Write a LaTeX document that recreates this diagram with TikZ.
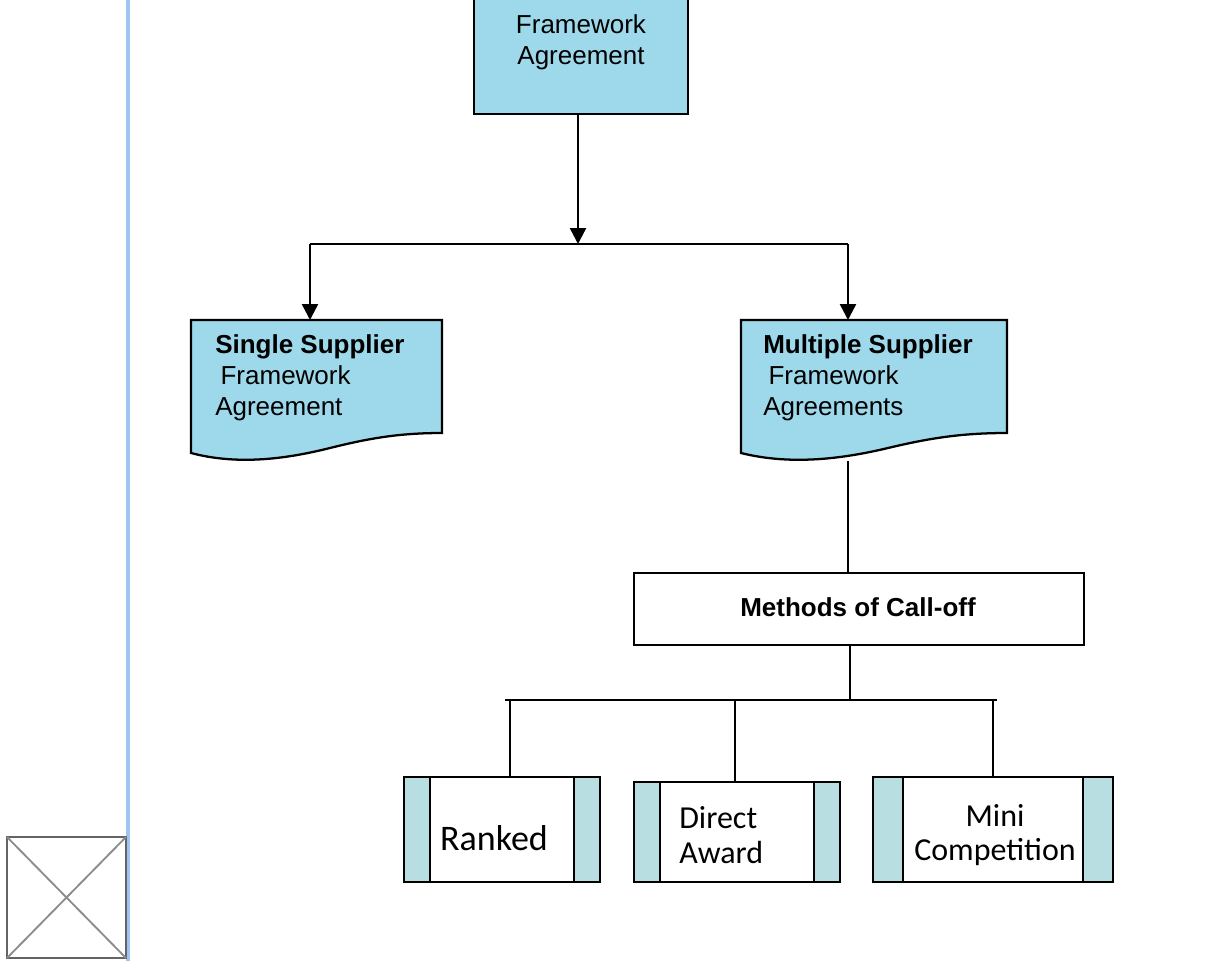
\documentclass[tikz,border=0pt]{standalone}
\usepackage{fontspec}
\setmainfont{Liberation Sans}
\newfontfamily\calib{Carlito}
\usetikzlibrary{arrows.meta,fit}
\definecolor{fwblue}{RGB}{157,217,234}
\definecolor{barteal}{RGB}{184,222,226}
\definecolor{sidebar}{RGB}{160,195,240}
\definecolor{phgray}{RGB}{140,140,140}
\definecolor{phdark}{RGB}{100,100,100}
\begin{document}
\begin{tikzpicture}[x=0.75pt,y=-0.75pt,
  boxline/.style={draw=black,line width=1.7pt},
  conn/.style={draw=black,line width=1.8pt},
  arr/.style={conn,-{Triangle[length=12pt,width=12pt]}},
  tight/.style={inner sep=0pt,outer sep=0pt},
  arialtxt/.style={font=\fontsize{19.5}{23.5}\selectfont,inner sep=0pt},
  calibtxt/.style={font=\calib\fontsize{24}{26}\selectfont,inner sep=0pt},
]
\useasboundingbox (0,0) rectangle (1225,961);
\clip (0,0) rectangle (1225,961);

% left side line
\coordinate (sideT) at (128,0);
\coordinate (sideB) at (128,961);
\draw[sidebar,line width=2.6pt] (sideT) -- (sideB);

% broken image placeholder
\node[tight,draw=phdark,line width=1.8pt,fit={(7,837) (126,958)}] (ph) {};
\draw[phgray,line width=1.4pt] (ph.north west) -- (ph.south east);
\draw[phgray,line width=1.4pt] (ph.south west) -- (ph.north east);

% top box
\node[tight,boxline,fill=fwblue,fit={(474,-20) (688,114)}] (top) {};
\node[arialtxt,align=center] (toptxt) at (581,42) {Framework\\Agreement};

% single supplier document
\node[tight,fit={(191,320) (442,440)}] (ss) {};
\path[boxline,fill=fwblue] (191,320) -- (442,320) -- (442,433)
  .. controls (400,433) and (370,438) .. (330,448)
  .. controls (290,458) and (240,466) .. (191,453) -- cycle;
\node[arialtxt,align=left,anchor=north west] (sstxt) at (215,334)
  {\textbf{Single Supplier}\\\hspace{4pt}Framework\\Agreement};

% multiple supplier document
\node[tight,fit={(741,320) (1007,440)}] (ms) {};
\coordinate (msbot) at (848,461);
\path[boxline,fill=fwblue] (741,320) -- (1007,320) -- (1007,433)
  .. controls (962,433) and (930,438) .. (888,448)
  .. controls (846,458) and (793,466) .. (741,453) -- cycle;
\node[arialtxt,align=left,anchor=north west] (mstxt) at (763,334)
  {\textbf{Multiple Supplier}\\\hspace{4pt}Framework\\Agreements};

% junction and arrows
\coordinate (j1) at (578,244);
\coordinate (j1L) at (310,244);
\coordinate (j1R) at (848,244);
\draw[arr] (top.south -| j1) -- (j1);
\draw[conn] (j1L) -- (j1R);
\draw[arr] (j1L) -- (j1L |- ss.north);
\draw[arr] (j1R) -- (j1R |- ms.north);

% methods of call-off
\node[tight,boxline,fill=white,fit={(634,573) (1084,645)}] (mc) {};
\node[arialtxt,font=\bfseries\fontsize{19.5}{22}\selectfont] (mctxt) at (858,607) {Methods of Call-off};
\draw[conn] (msbot) -- (msbot |- mc.north);

% bottom boxes
\node[tight,boxline,fill=white,fit={(404,777) (600,882)}] (rk) {};
\node[tight,boxline,fill=barteal,fit={(404,777) (430,882)}] (rkL) {};
\node[tight,boxline,fill=barteal,fit={(574,777) (600,882)}] (rkR) {};
\node[calibtxt,font=\calib\fontsize{27}{28}\selectfont] (rktxt) at (494,838) {Ranked};

\node[tight,boxline,fill=white,fit={(634,782) (840,882)}] (da) {};
\node[tight,boxline,fill=barteal,fit={(634,782) (660,882)}] (daL) {};
\node[tight,boxline,fill=barteal,fit={(814,782) (840,882)}] (daR) {};
\node[calibtxt,align=left,anchor=west] (datxt) at (679,835) {Direct\\Award};

\node[tight,boxline,fill=white,fit={(873,777) (1113,882)}] (mi) {};
\node[tight,boxline,fill=barteal,fit={(873,777) (903,882)}] (miL) {};
\node[tight,boxline,fill=barteal,fit={(1083,777) (1113,882)}] (miR) {};
\node[calibtxt,align=center] (mitxt) at (995,835) {Mini\\Competition};

% bottom junction
\coordinate (j2) at (850,700);
\coordinate (j2L) at (505,700);
\coordinate (j2R) at (997,700);
\coordinate (b1) at (510,700);
\coordinate (b2) at (735,700);
\coordinate (b3) at (993,700);
\draw[conn] (mc.south -| j2) -- (j2);
\draw[conn] (j2L) -- (j2R);
\draw[conn] (b1) -- (b1 |- rk.north);
\draw[conn] (b2) -- (b2 |- da.north);
\draw[conn] (b3) -- (b3 |- mi.north);
\end{tikzpicture}
\end{document}
